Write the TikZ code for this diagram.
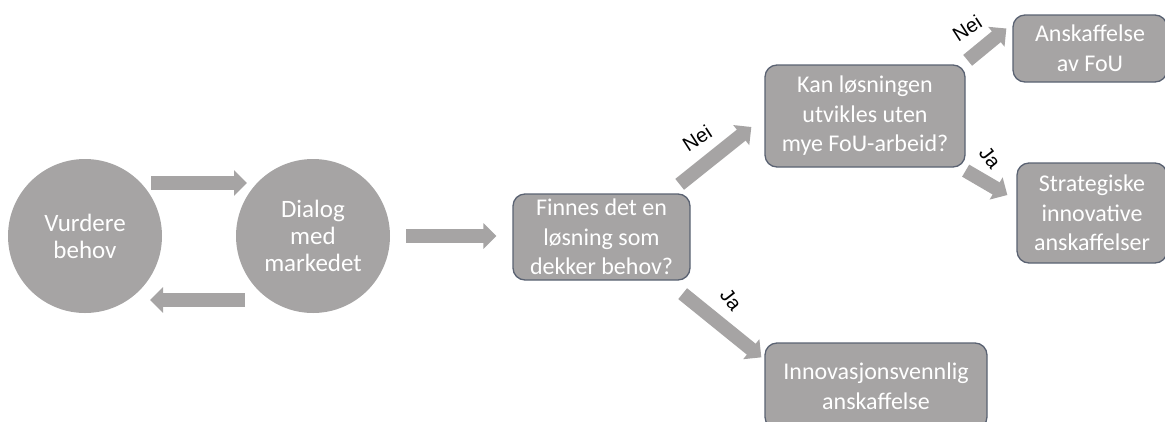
\documentclass[tikz,border=0pt]{standalone}
\usepackage{fontspec}
\setmainfont{Carlito}
\newfontfamily\labelfont{Liberation Sans}
\usetikzlibrary{arrows.meta}
\definecolor{shapegray}{HTML}{A6A4A4}
\definecolor{edgeblue}{HTML}{5A6272}
\tikzset{
  phase/.style={circle, fill=shapegray, text=white, minimum size=154pt, inner sep=0pt,
    align=center, font=\fontsize{25}{27}\selectfont},
  choice/.style={rectangle, rounded corners=12pt, fill=shapegray, draw=edgeblue, line width=1.3pt,
    text=white, align=center, inner sep=0pt, font=\fontsize{24}{29.5}\selectfont},
  blockarrow/.style={draw=shapegray, line width=14pt,
    -{Triangle[width=25pt,length=13pt,fill=shapegray]}},
  answer/.style={font=\labelfont\fontsize{20}{22}\selectfont, text=black, inner sep=0pt}
}
\begin{document}
\begin{tikzpicture}[x=1pt,y=-1pt]
\useasboundingbox (0,0) rectangle (1165,421);

% process circles
\node[phase] (v) at (85,236) {Vurdere\\behov};
\node[phase] (d) at (313,236) {Dialog\\med\\markedet};

% decision and outcome boxes
\node[choice, minimum width=177pt, minimum height=86pt] (b1) at (601.5,237) {Finnes det en\\løsning som\\dekker behov?};
\node[choice, minimum width=200pt, minimum height=102pt] (b2) at (865,116) {Kan løsningen\\utvikles uten\\mye FoU-arbeid?};
\node[choice, minimum width=154pt, minimum height=67pt] (b3) at (1090,48.5) {Anskaffelse\\av FoU};
\node[choice, minimum width=150pt, minimum height=100pt] (b4) at (1092,213) {Strategiske\\innovative\\anskaffelser};
\node[choice, minimum width=222pt, minimum height=86pt] (b5) at (876,386) {Innovasjonsvennlig\\anskaffelse};

% loop between the circles
\draw[blockarrow] ([shift={(66,-53)}]v.center) -- ([shift={(-66,-53)}]d.center);
\draw[blockarrow] ([shift={(-68,64)}]d.center) -- ([shift={(65,64)}]v.center);

% on to the first question
\draw[blockarrow] ([xshift=16pt]d.east) -- ([xshift=-16pt]d.east -| b1.west);

% branches
\draw[blockarrow] ([shift={(-11,-9)}]b1.north east) -- ([shift={(-13,11)}]b2.west);
\draw[blockarrow] ([shift={(-8,13)}]b1.south east) -- ([shift={(-3,15)}]b5.north west);
\draw[blockarrow] ([shift={(2,-4)}]b2.north east) -- ([shift={(-6,-20)}]b3.west);
\draw[blockarrow] ([shift={(0,3)}]b2.south east) -- ([shift={(-9,-18)}]b4.west);

% branch labels
\node[answer, rotate=33] (n1) at (697,138) {Nei};
\node[answer, rotate=-52] (j1) at (731,300) {Ja};
\node[answer, rotate=33] (n2) at (967,28) {Nei};
\node[answer, rotate=-52] (j2) at (990,158) {Ja};
\end{tikzpicture}
\end{document}
